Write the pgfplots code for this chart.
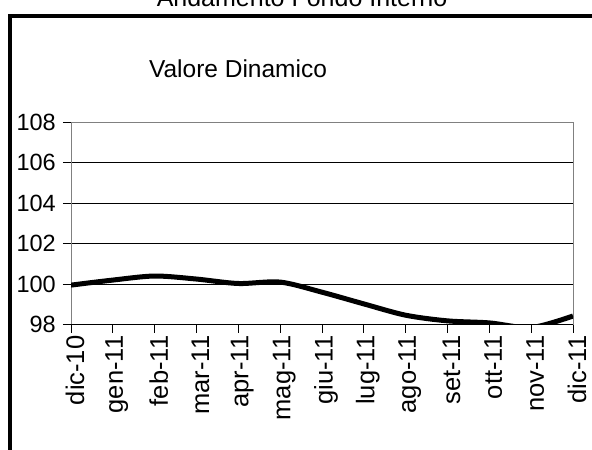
\documentclass[border=0pt]{standalone}
\usepackage{fontspec}
\setmainfont{Liberation Sans}
\usepackage{pgfplots}
\pgfplotsset{compat=1.18}
\begin{document}
\begin{tikzpicture}
\useasboundingbox (0,0) rectangle (592pt,-450pt);
\clip (0,0) rectangle (592pt,-450pt);
\fill[white] (0,0) rectangle (592pt,-450pt);
% frame
\draw[black, line width=4pt] (10.3pt,-470pt) -- (10.3pt,-16pt) -- (620pt,-16pt);
% titles
\node[anchor=base, font=\fontsize{25}{30}\selectfont] at (302pt,-6pt) {Andamento Fondo Interno};
\node[anchor=base, font=\fontsize{24.5}{28}\selectfont] at (238pt,-77pt) {Valore Dinamico};
\begin{axis}[
  at={(71pt,-324.5pt)}, anchor=south west,
  scale only axis, width=502pt, height=202pt,
  xmin=0, xmax=12, ymin=98, ymax=108,
  ytick={98,100,...,108},
  xtick={0,...,12},
  xticklabels={dic-10,gen-11,feb-11,mar-11,apr-11,mag-11,giu-11,lug-11,ago-11,set-11,ott-11,nov-11,dic-11},
  x tick label style={rotate=90, anchor=east, font=\fontsize{25.5}{30}\selectfont, inner sep=3pt, yshift=-4pt},
  y tick label style={font=\fontsize{23.5}{28}\selectfont, inner sep=3pt, xshift=-4pt},
  /pgf/number format/assume math mode=true,
  tick align=outside, tick pos=left,
  major tick length=8pt,
  tick style={black, line width=1pt},
  ymajorgrids, grid style={black, line width=1pt},
  axis line style={gray, line width=1pt},
  clip=true,
]
\addplot[black, line width=5pt, smooth, tension=0.5] coordinates {
(0,99.95) (1,100.2) (2,100.4) (3,100.25) (4,100.03) (5,100.1) (6,99.6)
(7,99.02) (8,98.46) (9,98.18) (10,98.08) (11,97.85) (12,98.42)
};
\draw[black, line width=1.2pt] (rel axis cs:0,0) -- (rel axis cs:1,0);
\end{axis}
\end{tikzpicture}
\end{document}
